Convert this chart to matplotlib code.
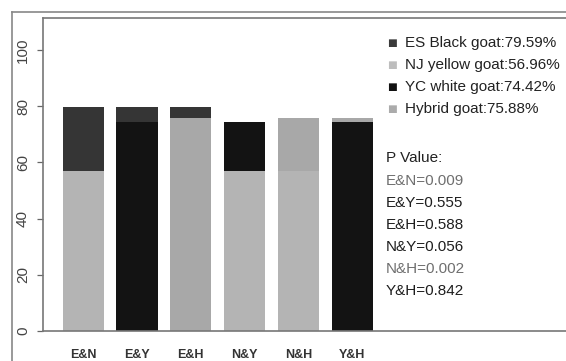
import matplotlib.pyplot as plt
from matplotlib.lines import Line2D

plt.rcParams['font.family'] = ['Liberation Sans', 'DejaVu Sans']

breeds = ["ES Black goat", "NJ yellow goat", "YC white goat", "Hybrid goat"]
rates = [79.59, 56.96, 74.42, 75.88]
bar_colors = ["#353535", "#b4b4b4", "#131313", "#a8a8a8"]
key_colors = ["#3a3a3a", "#bdbdbd", "#111111", "#ababab"]

pairs = ["E&N", "E&Y", "E&H", "N&Y", "N&H", "Y&H"]
pair_a = [0, 0, 0, 1, 1, 2]
pair_b = [1, 2, 3, 2, 3, 3]
p_values = [0.009, 0.555, 0.588, 0.056, 0.002, 0.842]
p_colors = ["#6f6f6f", "#1e1e1e", "#1e1e1e", "#1e1e1e", "#6f6f6f", "#1e1e1e"]

W, H = 566, 361
fig = plt.figure(figsize=(W / 100, H / 100), dpi=100)

def fx(px):
    return px / W

def fy(py):
    return 1 - py / H

# plot area (right side runs off the picture)
ax = fig.add_axes([fx(42.5), fy(331), fx(W) - fx(42.5) + 0.0, fy(17.5) - fy(331)])

x = list(range(1, len(pairs) + 1))
for i in range(len(pairs)):
    a, b = pair_a[i], pair_b[i]
    # taller one behind, shorter one in front
    hi, lo = (a, b) if rates[a] >= rates[b] else (b, a)
    ax.bar(x[i], rates[hi], width=0.765, color=bar_colors[hi], linewidth=0)
    ax.bar(x[i], rates[lo], width=0.765, color=bar_colors[lo], linewidth=0)

ax.set_xlim(0.246, 9.97)
ax.set_ylim(0, 111.5)
ax.set_yticks([0, 20, 40, 60, 80, 100])
ax.set_yticklabels(["0", "20", "40", "60", "80", "100"], rotation=90, va="center",
                   fontsize=11, color="#444444")
ax.set_xticks(x)
ax.set_xticklabels(pairs, fontsize=9, fontweight="bold", color="#333333")
ax.tick_params(axis="x", length=0, pad=13)
ax.tick_params(axis="y", length=4.5, width=0.9, color="#666666", pad=4.5)
for s in ["left", "top", "bottom"]:
    ax.spines[s].set_color("#777777")
    ax.spines[s].set_linewidth(1.2)
ax.spines["right"].set_visible(False)

# outer frame (left and top edges visible)
fig.add_artist(Line2D([fx(12), fx(12)], [fy(12), 0], color="#888888", lw=1.2))
fig.add_artist(Line2D([fx(12), 1], [fy(12), fy(12)], color="#888888", lw=1.2))

# legend
leg_y = [43, 65, 87, 109]
for i in range(len(breeds)):
    fig.text(fx(391.5), fy(leg_y[i]), "\u25a0", fontsize=7.5, color=key_colors[i],
             ha="center", va="center", family="DejaVu Sans")
    fig.text(fx(405), fy(leg_y[i]), "%s:%.2f%%" % (breeds[i], rates[i]),
             fontsize=11, color="#222222", ha="left", va="center")

# p values
fig.text(fx(386), fy(158), "P Value:", fontsize=11, color="#222222", ha="left", va="center")
for i in range(len(pairs)):
    fig.text(fx(386), fy(181 + 22 * i), "%s=%.3f" % (pairs[i], p_values[i]),
             fontsize=11, color=p_colors[i], ha="left", va="center")

fig.savefig("out.png", dpi=100)
